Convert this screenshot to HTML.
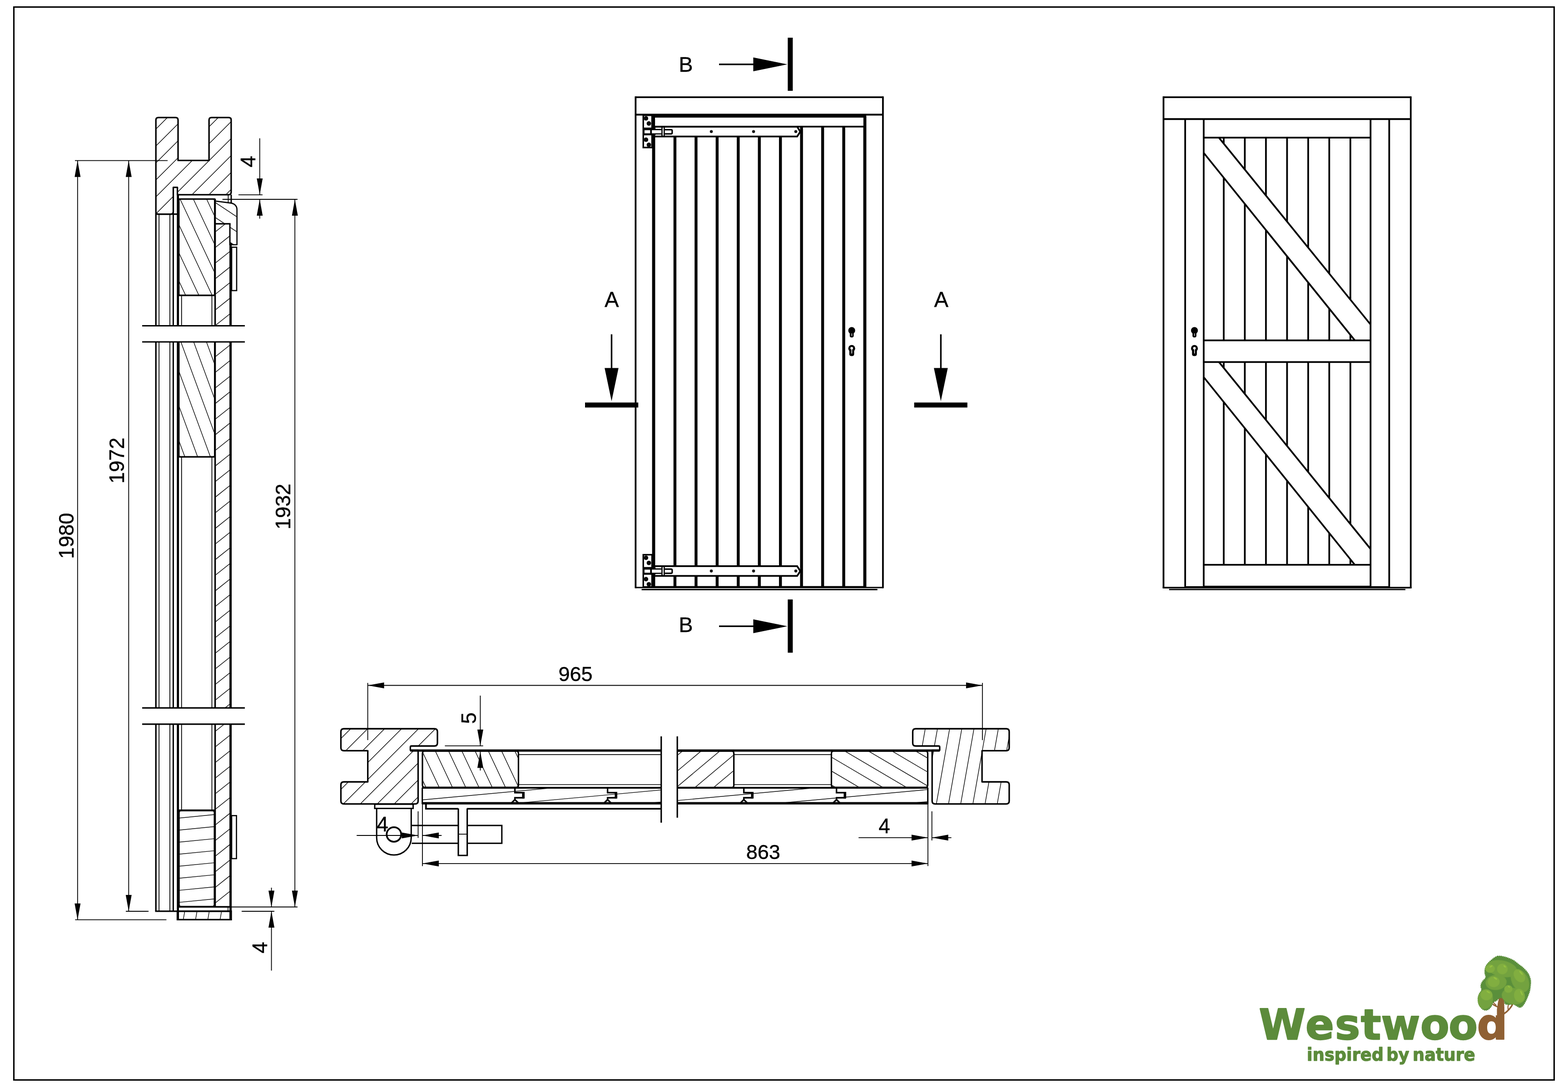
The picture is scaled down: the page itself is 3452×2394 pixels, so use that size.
<!DOCTYPE html>
<html lang="en">
<head>
<meta charset="utf-8">
<title>Westwood door drawing</title>
<style>html,body{margin:0;padding:0;background:#fff}body{width:3452px;height:2394px;overflow:hidden}svg{display:block;will-change:transform}</style>
</head>
<body>
<svg width="3452" height="2394" viewBox="0 0 3452 2394" font-family="'Liberation Sans', Arial, sans-serif" stroke="#000" fill="none">
<defs><clipPath id="c1"><path d="M343.2 466V264.3Q343.2 258.8 348.7 258.8H386.5Q392 258.8 392 264.3V353.4H460.2V264.3Q460.2 258.8 465.7 258.8H503.4Q508.9 258.8 508.9 264.3V423Q508.9 428.9 503 428.9H390.6V412.6H381.5V466Q381.5 471.6 376 471.6H349Q343.2 471.6 343.2 466Z"/></clipPath><clipPath id="c2"><path d="M473.6 492.8H507V1997.2H473.6Z"/></clipPath><clipPath id="c3"><path d="M473.6 442.7L503.7 446.6Q521.7 448 521.7 462V539H511L506.1 535V492.8H473.6Z"/></clipPath><clipPath id="c4"><path d="M397.1 438.8H469.4Q472.4 438.8 472.4 441.8V647.5Q472.4 650.5 469.4 650.5H397.1Q394.1 650.5 394.1 647.5V441.8Q394.1 438.8 397.1 438.8Z"/></clipPath><clipPath id="c5"><path d="M397.1 740H469.4Q472.4 740 472.4 743V1003.2Q472.4 1006.2 469.4 1006.2H397.1Q394.1 1006.2 394.1 1003.2V743Q394.1 740 397.1 740Z"/></clipPath><clipPath id="c6"><path d="M398.8 1785.4H467.4Q471.8 1785.4 471.8 1789.8V1991.9Q471.8 1996.3 467.4 1996.3H398.8Q394.4 1996.3 394.4 1991.9V1789.8Q394.4 1785.4 398.8 1785.4Z"/></clipPath><clipPath id="c7"><path d="M390.5 2006.8H509V2025.3H390.5Z"/></clipPath><clipPath id="c8"><path d="M757 1605H956.5Q963 1605 963 1611.5V1636.5Q963 1643 956.5 1643H905.9Q903.4 1643 903.4 1645.5V1652.3H920.5V1764.1Q920.5 1770.6 914 1770.6H757Q750.5 1770.6 750.5 1764.1V1728.5Q750.5 1722 757 1722H809.7V1653.3H757Q750.5 1653.3 750.5 1646.8V1611.5Q750.5 1605 757 1605Z"/></clipPath><clipPath id="c9"><path d="M2215.3 1605H2015.9Q2009.4 1605 2009.4 1611.5V1636.5Q2009.4 1643 2015.9 1643H2066.3Q2068.8 1643 2068.8 1645.5V1652.3H2052.1V1764.1Q2052.1 1770.6 2058.6 1770.6H2215.3Q2221.8 1770.6 2221.8 1764.1V1728.5Q2221.8 1722 2215.3 1722H2162V1653.3H2215.3Q2221.8 1653.3 2221.8 1646.8V1611.5Q2221.8 1605 2215.3 1605Z"/></clipPath><clipPath id="c10"><path d="M935 1654.2H1136.4Q1141.4 1654.2 1141.4 1659.2V1729Q1141.4 1734 1136.4 1734H935Q930 1734 930 1729V1659.2Q930 1654.2 935 1654.2Z"/></clipPath><clipPath id="c11"><path d="M1835.4 1654.2H2037.4Q2042.4 1654.2 2042.4 1659.2V1729Q2042.4 1734 2037.4 1734H1835.4Q1830.4 1734 1830.4 1729V1659.2Q1830.4 1654.2 1835.4 1654.2Z"/></clipPath><clipPath id="c12"><path d="M1485 1654.2H1610.6Q1615.6 1654.2 1615.6 1659.2V1729.4Q1615.6 1734.4 1610.6 1734.4H1485Q1480 1734.4 1480 1729.4V1659.2Q1480 1654.2 1485 1654.2Z"/></clipPath><clipPath id="c13"><path d="M929.3 1734.6H2042.8V1769.2H929.3Z"/></clipPath></defs>
<!-- sheet border -->
<rect x="30.5" y="15.5" width="3391" height="2363" stroke-width="3.2" fill="none"/>
<!-- section B-B -->
<g id="secB">
<path d="M224 366.07L427.07 163M242.66 384.74L445.74 181.66M261.33 403.4L464.4 200.33M280 422.07L483.07 219M298.67 440.74L501.74 237.67M317.33 459.41L520.41 256.33M336 478.07L539.07 275M354.67 496.74L557.74 293.67M373.34 515.41L576.41 312.34M392.01 534.08L595.08 331.01M410.67 552.74L613.74 349.67M429.34 571.41L632.41 368.34" stroke-width="1.4" fill="none" clip-path="url(#c1)"/>
<path d="M343.2 466V264.3Q343.2 258.8 348.7 258.8H386.5Q392 258.8 392 264.3V353.4H460.2V264.3Q460.2 258.8 465.7 258.8H503.4Q508.9 258.8 508.9 264.3V423Q508.9 428.9 503 428.9H390.6V412.6H381.5V466Q381.5 471.6 376 471.6H349Q343.2 471.6 343.2 466Z" stroke-width="3.3" fill="none" stroke-linejoin="round"/>
<line x1="343.2" y1="468" x2="343.2" y2="2006.8" stroke-width="3.3"/>
<line x1="350.1" y1="471.6" x2="350.1" y2="2006.8" stroke-width="1.8"/>
<line x1="374" y1="471.6" x2="374" y2="2006.8" stroke-width="1.8"/>
<line x1="381.4" y1="466" x2="381.4" y2="2006.8" stroke-width="3"/>
<line x1="343.2" y1="471.6" x2="391.7" y2="471.6" stroke-width="3.3"/>
<line x1="341.6" y1="2006.8" x2="509" y2="2006.8" stroke-width="3.3"/>
<line x1="391.7" y1="428.9" x2="391.7" y2="2025.3" stroke-width="4.7"/>
<line x1="391.7" y1="438.3" x2="474" y2="438.3" stroke-width="3.3"/>
<line x1="399.7" y1="650" x2="399.7" y2="1790" stroke-width="1.8"/>
<line x1="466.5" y1="650" x2="466.5" y2="1790" stroke-width="1.8"/>
<path d="M-271.9 1069.57L491.07 462.68M-255.15 1090.62L507.81 483.73M-238.41 1111.67L524.56 504.78M-221.66 1132.72L541.3 525.83M-204.92 1153.78L558.05 546.89M-188.17 1174.83L574.79 567.94M-171.42 1195.88L591.54 588.99M-154.68 1216.93L608.28 610.04M-137.93 1237.98L625.03 631.1M-121.19 1259.04L641.78 652.15M-104.44 1280.09L658.52 673.2M-87.7 1301.14L675.27 694.25M-70.95 1322.19L692.01 715.3M-54.2 1343.24L708.76 736.36M-37.46 1364.3L725.5 757.41M-20.71 1385.35L742.25 778.46M-3.97 1406.4L759 799.51M12.78 1427.45L775.74 820.56M29.52 1448.51L792.49 841.62M46.27 1469.56L809.23 862.67M63.01 1490.61L825.98 883.72M79.76 1511.66L842.72 904.77M96.51 1532.71L859.47 925.83M113.25 1553.77L876.21 946.88M130 1574.82L892.96 967.93M146.74 1595.87L909.71 988.98M163.49 1616.92L926.45 1010.03M180.23 1637.97L943.2 1031.09M196.98 1659.03L959.94 1052.14M213.73 1680.08L976.69 1073.19M230.47 1701.13L993.43 1094.24M247.22 1722.18L1010.18 1115.29M263.96 1743.24L1026.93 1136.35M280.71 1764.29L1043.67 1157.4M297.45 1785.34L1060.42 1178.45M314.2 1806.39L1077.16 1199.5M330.94 1827.44L1093.91 1220.56M347.69 1848.5L1110.65 1241.61M364.44 1869.55L1127.4 1262.66M381.18 1890.6L1144.15 1283.71M397.93 1911.65L1160.89 1304.76M414.67 1932.7L1177.64 1325.82M431.42 1953.76L1194.38 1346.87M448.16 1974.81L1211.13 1367.92M464.91 1995.86L1227.87 1388.97M481.66 2016.91L1244.62 1410.03M498.4 2037.97L1261.36 1431.08" stroke-width="1.4" fill="none" clip-path="url(#c2)"/>
<line x1="473.6" y1="438" x2="473.6" y2="1997.2" stroke-width="3.4"/>
<line x1="506.1" y1="492.8" x2="506.1" y2="540" stroke-width="3"/>
<line x1="507.6" y1="535" x2="507.6" y2="2025.3" stroke-width="5"/>
<line x1="472" y1="492.8" x2="507.6" y2="492.8" stroke-width="3.3"/>
<line x1="502.4" y1="428.9" x2="502.4" y2="446.4" stroke-width="1.8"/>
<line x1="509" y1="428.9" x2="509" y2="447.5" stroke-width="3"/>
<path d="M496.68 395.16L586.28 454.46M481.5 418.09L571.1 477.39M466.33 441.02L555.92 500.32M451.15 463.96L540.74 523.26M435.97 486.89L525.56 546.19M420.79 509.82L510.38 569.12" stroke-width="1.4" fill="none" clip-path="url(#c3)"/>
<path d="M473.6 442.7L503.7 446.6Q521.7 448 521.7 462V539H511L506.1 535" stroke-width="2.6" fill="none" stroke-linejoin="round"/>
<rect x="510" y="544.5" width="11" height="95.5" stroke-width="2.6" fill="none"/>
<rect x="510" y="1796.3" width="10.6" height="94.7" stroke-width="2.6" fill="none"/>
<path d="M397.1 438.8H469.4Q472.4 438.8 472.4 441.8V647.5Q472.4 650.5 469.4 650.5H397.1Q394.1 650.5 394.1 647.5V441.8Q394.1 438.8 397.1 438.8Z" stroke-width="0.1" fill="#fff" stroke-linejoin="round"/>
<path d="M465.21 398.49L566.6 613.95M441.32 409.73L542.71 625.19M417.44 420.98L518.82 636.43M393.55 432.22L494.94 647.67M369.66 443.46L471.05 658.91M345.77 454.7L447.16 670.16M321.89 465.94L423.27 681.4M298 477.18L399.39 692.64" stroke-width="1.4" fill="none" clip-path="url(#c4)"/>
<path d="M397.1 438.8H469.4Q472.4 438.8 472.4 441.8V647.5Q472.4 650.5 469.4 650.5H397.1Q394.1 650.5 394.1 647.5V441.8Q394.1 438.8 397.1 438.8Z" stroke-width="2.6" fill="none" stroke-linejoin="round"/>
<line x1="392" y1="650.5" x2="474" y2="650.5" stroke-width="3.3"/>
<path d="M397.1 740H469.4Q472.4 740 472.4 743V1003.2Q472.4 1006.2 469.4 1006.2H397.1Q394.1 1006.2 394.1 1003.2V743Q394.1 740 397.1 740Z" stroke-width="0.1" fill="#fff" stroke-linejoin="round"/>
<path d="M465.98 707.82L565.93 979.5M441.2 716.94L541.16 988.62M416.42 726.05L516.38 997.73M391.65 735.17L491.61 1006.85M366.87 744.29L466.83 1015.97M342.09 753.4L442.05 1025.08M317.32 762.52L417.28 1034.2M292.54 771.63L392.5 1043.31" stroke-width="1.4" fill="none" clip-path="url(#c5)"/>
<path d="M397.1 740H469.4Q472.4 740 472.4 743V1003.2Q472.4 1006.2 469.4 1006.2H397.1Q394.1 1006.2 394.1 1003.2V743Q394.1 740 397.1 740Z" stroke-width="2.6" fill="none" stroke-linejoin="round"/>
<line x1="392" y1="1006.2" x2="474" y2="1006.2" stroke-width="3.3"/>
<path d="M398.8 1785.4H467.4Q471.8 1785.4 471.8 1789.8V1991.9Q471.8 1996.3 467.4 1996.3H398.8Q394.4 1996.3 394.4 1991.9V1789.8Q394.4 1785.4 398.8 1785.4Z" stroke-width="0.1" fill="#fff" stroke-linejoin="round"/>
<path d="M366.39 1777.87L477.26 1767M368.97 1804.14L479.84 1793.27M371.54 1830.42L482.41 1819.55M374.12 1856.69L484.99 1845.82M376.7 1882.96L487.56 1872.09M379.27 1909.24L490.14 1898.37M381.85 1935.51L492.72 1924.64M384.43 1961.79L495.29 1950.92M387 1988.06L497.87 1977.19M389.58 2014.33L500.44 2003.46" stroke-width="1.4" fill="none" clip-path="url(#c6)"/>
<path d="M398.8 1785.4H467.4Q471.8 1785.4 471.8 1789.8V1991.9Q471.8 1996.3 467.4 1996.3H398.8Q394.4 1996.3 394.4 1991.9V1789.8Q394.4 1785.4 398.8 1785.4Z" stroke-width="2.6" fill="none" stroke-linejoin="round"/>
<line x1="392" y1="1784.6" x2="474" y2="1784.6" stroke-width="3.6"/>
<line x1="391.7" y1="1997.2" x2="509" y2="1997.2" stroke-width="3.6"/>
<line x1="502" y1="1997.2" x2="502" y2="2006.8" stroke-width="1.6"/>
<path d="M375.91 2028.59L384.68 1978.83M402.1 2033.21L410.88 1983.45M428.3 2037.83L437.08 1988.06M454.5 2042.45L463.27 1992.68M480.69 2047.07L489.47 1997.3M506.89 2051.69L515.66 2001.92" stroke-width="1.4" fill="none" clip-path="url(#c7)"/>
<path d="M390.5 2006.8H509V2025.3H390.5Z" stroke-width="3.3" fill="none" stroke-linejoin="miter"/>
<rect x="312" y="717.5" width="228" height="35.5" fill="#fff" stroke="none"/>
<line x1="313" y1="717.5" x2="539" y2="717.5" stroke-width="3.2"/>
<line x1="313" y1="753" x2="539" y2="753" stroke-width="3.2"/>
<rect x="312" y="1559.2" width="228" height="35.6" fill="#fff" stroke="none"/>
<line x1="313" y1="1559.2" x2="539" y2="1559.2" stroke-width="3.2"/>
<line x1="313" y1="1594.8" x2="539" y2="1594.8" stroke-width="3.2"/>
<line x1="170.8" y1="353.7" x2="170.8" y2="2025.7" stroke-width="1.8"/>
<polygon points="170.8,353.7 177.3,389.7 164.3,389.7" fill="#000" stroke="none"/>
<polygon points="170.8,2025.7 164.3,1989.7 177.3,1989.7" fill="#000" stroke="none"/>
<line x1="283.3" y1="353.7" x2="283.3" y2="2007" stroke-width="1.8"/>
<polygon points="283.3,353.7 289.8,389.7 276.8,389.7" fill="#000" stroke="none"/>
<polygon points="283.3,2007 276.8,1971 289.8,1971" fill="#000" stroke="none"/>
<line x1="649.2" y1="439" x2="649.2" y2="1997.5" stroke-width="1.8"/>
<polygon points="649.2,439 655.7,475 642.7,475" fill="#000" stroke="none"/>
<polygon points="649.2,1997.5 642.7,1961.5 655.7,1961.5" fill="#000" stroke="none"/>
<line x1="165" y1="353.7" x2="369" y2="353.7" stroke-width="1.8"/>
<line x1="165.4" y1="2025.7" x2="366.4" y2="2025.7" stroke-width="1.8"/>
<line x1="277" y1="2007" x2="327" y2="2007" stroke-width="1.8"/>
<line x1="489.8" y1="439" x2="655" y2="439" stroke-width="1.8"/>
<line x1="510" y1="1997.5" x2="655" y2="1997.5" stroke-width="1.8"/>
<line x1="525" y1="429.1" x2="578" y2="429.1" stroke-width="1.8"/>
<line x1="571.8" y1="304.6" x2="571.8" y2="429.1" stroke-width="1.8"/>
<polygon points="571.8,429.1 565.3,393.1 578.3,393.1" fill="#000" stroke="none"/>
<polygon points="571.8,439 578.3,475 565.3,475" fill="#000" stroke="none"/>
<line x1="571.8" y1="439" x2="571.8" y2="481.6" stroke-width="1.8"/>
<line x1="532" y1="2007" x2="604" y2="2007" stroke-width="1.8"/>
<line x1="597.6" y1="1955" x2="597.6" y2="1997.5" stroke-width="1.8"/>
<polygon points="597.6,1997.5 591.1,1961.5 604.1,1961.5" fill="#000" stroke="none"/>
<polygon points="597.6,2007 604.1,2043 591.1,2043" fill="#000" stroke="none"/>
<line x1="597.6" y1="2007" x2="597.6" y2="2137.6" stroke-width="1.8"/>
<text x="161.6" y="1180" font-size="45.5" text-anchor="middle" fill="#000" stroke="#000" stroke-width="0.45" transform="rotate(-90 161.6 1180)">1980</text>
<text x="273" y="1014.4" font-size="45.5" text-anchor="middle" fill="#000" stroke="#000" stroke-width="0.45" transform="rotate(-90 273 1014.4)">1972</text>
<text x="639.1" y="1115.7" font-size="45.5" text-anchor="middle" fill="#000" stroke="#000" stroke-width="0.45" transform="rotate(-90 639.1 1115.7)">1932</text>
<text x="562" y="355.9" font-size="45.5" text-anchor="middle" fill="#000" stroke="#000" stroke-width="0.45" transform="rotate(-90 562 355.9)">4</text>
<text x="587.5" y="2087" font-size="45.5" text-anchor="middle" fill="#000" stroke="#000" stroke-width="0.45" transform="rotate(-90 587.5 2087)">4</text>
</g>
<!-- front elevation -->
<g id="front">
<line x1="1439" y1="256" x2="1439" y2="1293" stroke-width="6.8"/>
<line x1="1485.9" y1="256" x2="1485.9" y2="1293" stroke-width="6.4"/>
<line x1="1532.35" y1="256" x2="1532.35" y2="1293" stroke-width="6.4"/>
<line x1="1578.8" y1="256" x2="1578.8" y2="1293" stroke-width="6.4"/>
<line x1="1625.25" y1="256" x2="1625.25" y2="1293" stroke-width="6.4"/>
<line x1="1671.7" y1="256" x2="1671.7" y2="1293" stroke-width="6.4"/>
<line x1="1718.15" y1="256" x2="1718.15" y2="1293" stroke-width="6.4"/>
<line x1="1764.6" y1="256" x2="1764.6" y2="1293" stroke-width="6.4"/>
<line x1="1811.05" y1="256" x2="1811.05" y2="1293" stroke-width="6.4"/>
<line x1="1857.5" y1="256" x2="1857.5" y2="1293" stroke-width="6.4"/>
<line x1="1903.95" y1="256" x2="1903.95" y2="1293" stroke-width="6.8"/>
<line x1="1399.3" y1="212.3" x2="1399.3" y2="1295.6" stroke-width="3.8"/>
<line x1="1943.8" y1="212.3" x2="1943.8" y2="1295.6" stroke-width="3.8"/>
<line x1="1399.3" y1="214.2" x2="1943.8" y2="214.2" stroke-width="3.8"/>
<line x1="1399.3" y1="252.5" x2="1943.8" y2="252.5" stroke-width="3.8"/>
<line x1="1399.3" y1="1294" x2="1943.8" y2="1294" stroke-width="3.2"/>
<line x1="1412.5" y1="1298.5" x2="1931.7" y2="1298.5" stroke-width="2.8"/>
<rect x="1442.3" y="259" width="458.2" height="18.6" fill="#fff" stroke="none"/>
<line x1="1435.7" y1="256.3" x2="1907.1" y2="256.3" stroke-width="5.6"/>
<line x1="1439" y1="278.9" x2="1903.8" y2="278.9" stroke-width="3.8"/>
<polygon points="1442,279.1 1755,279.1 1761.8,289.9 1755,300.6 1442,300.6" fill="#fff" stroke="none"/>
<path d="M1440 279.1H1755L1761.8 289.9L1755 300.6H1440" stroke-width="3.8" fill="none" stroke-linejoin="miter"/>
<rect x="1416.2" y="253.9" width="19.3" height="71" stroke-width="3.4" fill="#fff"/>
<circle cx="1422.2" cy="260.7" r="4.9" stroke="none" fill="#0a0a0a"/>
<circle cx="1428.5" cy="272" r="4.9" stroke="none" fill="#0a0a0a"/>
<circle cx="1422.2" cy="307.7" r="4.9" stroke="none" fill="#0a0a0a"/>
<circle cx="1428.5" cy="319" r="4.9" stroke="none" fill="#0a0a0a"/>
<polygon points="1416.2,281 1443,281 1443,298 1416.2,298" fill="#000" stroke="none"/>
<rect x="1418.9" y="286.7" width="12.4" height="6.9" fill="#fff" stroke="none"/>
<rect x="1435.1" y="286.7" width="21" height="6.9" fill="#fff" stroke="none"/>
<line x1="1443" y1="285.3" x2="1456.2" y2="285.3" stroke-width="2.8"/>
<line x1="1443" y1="294.9" x2="1456.2" y2="294.9" stroke-width="2.6"/>
<line x1="1457.4" y1="280" x2="1457.4" y2="301" stroke-width="2.7"/>
<line x1="1462.3" y1="280" x2="1462.3" y2="301" stroke-width="2.7"/>
<path d="M1463.6 285.6H1477.4Q1479.8 285.6 1479.8 288V292.4Q1479.8 294.8 1477.4 294.8H1463.6" stroke-width="3.2" fill="none" stroke-linejoin="round"/>
<circle cx="1566" cy="289.8" r="3.3" stroke="none" fill="#111"/>
<circle cx="1659" cy="289.8" r="3.3" stroke="none" fill="#111"/>
<circle cx="1752" cy="289.8" r="3.3" stroke="none" fill="#111"/>
<polygon points="1442,1246.9 1755,1246.9 1761.8,1257.7 1755,1268.4 1442,1268.4" fill="#fff" stroke="none"/>
<path d="M1440 1246.9H1755L1761.8 1257.7L1755 1268.4H1440" stroke-width="3.8" fill="none" stroke-linejoin="miter"/>
<rect x="1416.2" y="1221.7" width="19.3" height="71" stroke-width="3.4" fill="#fff"/>
<circle cx="1422.2" cy="1228.5" r="4.9" stroke="none" fill="#0a0a0a"/>
<circle cx="1428.5" cy="1239.8" r="4.9" stroke="none" fill="#0a0a0a"/>
<circle cx="1422.2" cy="1275.5" r="4.9" stroke="none" fill="#0a0a0a"/>
<circle cx="1428.5" cy="1286.8" r="4.9" stroke="none" fill="#0a0a0a"/>
<polygon points="1416.2,1248.8 1443,1248.8 1443,1265.8 1416.2,1265.8" fill="#000" stroke="none"/>
<rect x="1418.9" y="1254.5" width="12.4" height="6.9" fill="#fff" stroke="none"/>
<rect x="1435.1" y="1254.5" width="21" height="6.9" fill="#fff" stroke="none"/>
<line x1="1443" y1="1253.1" x2="1456.2" y2="1253.1" stroke-width="2.8"/>
<line x1="1443" y1="1262.7" x2="1456.2" y2="1262.7" stroke-width="2.6"/>
<line x1="1457.4" y1="1247.8" x2="1457.4" y2="1268.8" stroke-width="2.7"/>
<line x1="1462.3" y1="1247.8" x2="1462.3" y2="1268.8" stroke-width="2.7"/>
<path d="M1463.6 1253.4H1477.4Q1479.8 1253.4 1479.8 1255.8V1260.2Q1479.8 1262.6 1477.4 1262.6H1463.6" stroke-width="3.2" fill="none" stroke-linejoin="round"/>
<circle cx="1566" cy="1257.6" r="3.3" stroke="none" fill="#111"/>
<circle cx="1659" cy="1257.6" r="3.3" stroke="none" fill="#111"/>
<circle cx="1752" cy="1257.6" r="3.3" stroke="none" fill="#111"/>
<line x1="1439" y1="1292.6" x2="1903.8" y2="1292.6" stroke-width="3.6"/>
<circle cx="1875.1" cy="727.9" r="7.6" stroke="none" fill="#000"/>
<path d="M1870.8 730.9V739.5Q1870.8 743.3 1875.1 743.3Q1879.4 743.3 1879.4 739.5V730.9Z" stroke-width="0.1" fill="#000" stroke-linejoin="round"/>
<line x1="1875.4" y1="734.3" x2="1875.4" y2="740.1" stroke-width="1.3" stroke="#fff"/>
<circle cx="1875.1" cy="767.4" r="7.6" stroke="none" fill="#000"/>
<path d="M1869.8 769.4V780Q1869.8 784.2 1875.1 784.2Q1880.4 784.2 1880.4 780V769.4Z" stroke-width="0.1" fill="#000" stroke-linejoin="round"/>
<circle cx="1875.1" cy="766.8" r="2.9" stroke="none" fill="#fff"/>
<line x1="1875.3" y1="768.9" x2="1875.3" y2="778.6" stroke-width="1.5" stroke="#fff"/>
<line x1="1739.8" y1="83" x2="1739.8" y2="200" stroke-width="11"/>
<line x1="1583" y1="141.8" x2="1662" y2="141.8" stroke-width="3.4"/>
<polygon points="1733.4,141.8 1658.4,157.1 1658.4,126.5" fill="#000" stroke="none"/>
<text x="1509.9" y="158.4" font-size="46.8" text-anchor="middle" fill="#000" stroke="#000" stroke-width="0.45">B</text>
<line x1="1739.8" y1="1320.3" x2="1739.8" y2="1437.5" stroke-width="11"/>
<line x1="1583" y1="1379.3" x2="1662" y2="1379.3" stroke-width="3.4"/>
<polygon points="1733.4,1379.3 1658.4,1394.6 1658.4,1364" fill="#000" stroke="none"/>
<text x="1509.9" y="1392" font-size="46.8" text-anchor="middle" fill="#000" stroke="#000" stroke-width="0.45">B</text>
<line x1="1288" y1="892.1" x2="1405.2" y2="892.1" stroke-width="11"/>
<line x1="1346.4" y1="736.3" x2="1346.4" y2="814" stroke-width="3.4"/>
<polygon points="1346.4,883.5 1331.1,810.5 1361.7,810.5" fill="#000" stroke="none"/>
<text x="1346.8" y="675.8" font-size="47.2" text-anchor="middle" fill="#000" stroke="#000" stroke-width="0.45">A</text>
<line x1="2012.6" y1="892.1" x2="2129.7" y2="892.1" stroke-width="11"/>
<line x1="2071.3" y1="736.3" x2="2071.3" y2="814" stroke-width="3.4"/>
<polygon points="2071.3,883.5 2056,810.5 2086.6,810.5" fill="#000" stroke="none"/>
<text x="2072.2" y="675.8" font-size="47.2" text-anchor="middle" fill="#000" stroke="#000" stroke-width="0.45">A</text>
</g>
<!-- rear elevation -->
<g id="rear">
<line x1="2694.1" y1="303.2" x2="2694.1" y2="1243.4" stroke-width="3.8"/>
<line x1="2740.5" y1="303.2" x2="2740.5" y2="1243.4" stroke-width="3.8"/>
<line x1="2787" y1="303.2" x2="2787" y2="1243.4" stroke-width="3.8"/>
<line x1="2833.5" y1="303.2" x2="2833.5" y2="1243.4" stroke-width="3.8"/>
<line x1="2880" y1="303.2" x2="2880" y2="1243.4" stroke-width="3.8"/>
<line x1="2926.4" y1="303.2" x2="2926.4" y2="1243.4" stroke-width="3.8"/>
<line x1="2972.9" y1="303.2" x2="2972.9" y2="1243.4" stroke-width="3.8"/>
<polygon points="2650,303.2 2683.5,303.2 3017.3,714.6 3017.3,749.6 2983.4,749.6 2650,336.6" fill="#fff" stroke="none"/>
<line x1="2683.5" y1="303.2" x2="3017.3" y2="714.6" stroke-width="3.8"/>
<line x1="2650" y1="336.6" x2="2982.8" y2="749.8" stroke-width="3.8"/>
<polygon points="2650,797.2 2683.5,797.2 3017.3,1209 3017.3,1243.4 2983.4,1243.4 2650,830.6" fill="#fff" stroke="none"/>
<line x1="2683.5" y1="797.2" x2="3017.3" y2="1209" stroke-width="3.8"/>
<line x1="2650" y1="830.6" x2="2982.6" y2="1243.9" stroke-width="3.8"/>
<rect x="2650" y="749.6" width="367.3" height="47.6" fill="#fff" stroke="none"/>
<line x1="2650" y1="303.1" x2="3017.3" y2="303.1" stroke-width="3.8"/>
<line x1="2650" y1="749.7" x2="3017.3" y2="749.7" stroke-width="3.8"/>
<line x1="2650" y1="797.3" x2="3017.3" y2="797.3" stroke-width="3.8"/>
<line x1="2650" y1="1243.8" x2="3017.3" y2="1243.8" stroke-width="3.8"/>
<line x1="2650" y1="1291.9" x2="3017.3" y2="1291.9" stroke-width="3.8"/>
<line x1="2609.2" y1="1292.6" x2="3058.4" y2="1292.6" stroke-width="3"/>
<line x1="2561.5" y1="262" x2="2561.5" y2="1294.2" stroke-width="3.8"/>
<line x1="2609.2" y1="262" x2="2609.2" y2="1294.2" stroke-width="3.8"/>
<line x1="2650" y1="262" x2="2650" y2="1294.2" stroke-width="3.8"/>
<line x1="3017.3" y1="262" x2="3017.3" y2="1294.2" stroke-width="3.8"/>
<line x1="3058.4" y1="262" x2="3058.4" y2="1294.2" stroke-width="3.8"/>
<line x1="3105.8" y1="262" x2="3105.8" y2="1294.2" stroke-width="3.8"/>
<line x1="2561.5" y1="212.2" x2="2561.5" y2="262" stroke-width="3.8"/>
<line x1="3105.8" y1="212.2" x2="3105.8" y2="262" stroke-width="3.8"/>
<line x1="2561.5" y1="214.1" x2="3105.8" y2="214.1" stroke-width="3.8"/>
<line x1="2561.5" y1="262.2" x2="3105.8" y2="262.2" stroke-width="4"/>
<line x1="2559.6" y1="1294.2" x2="3107.7" y2="1294.2" stroke-width="3.4"/>
<line x1="2573.8" y1="1298.4" x2="3094.1" y2="1298.4" stroke-width="2.8"/>
<circle cx="2629.6" cy="727.9" r="7.6" stroke="none" fill="#000"/>
<path d="M2625.3 730.9V739.5Q2625.3 743.3 2629.6 743.3Q2633.9 743.3 2633.9 739.5V730.9Z" stroke-width="0.1" fill="#000" stroke-linejoin="round"/>
<line x1="2629.9" y1="734.3" x2="2629.9" y2="740.1" stroke-width="1.3" stroke="#fff"/>
<circle cx="2629.6" cy="767.4" r="7.6" stroke="none" fill="#000"/>
<path d="M2624.3 769.4V780Q2624.3 784.2 2629.6 784.2Q2634.9 784.2 2634.9 780V769.4Z" stroke-width="0.1" fill="#000" stroke-linejoin="round"/>
<circle cx="2629.6" cy="766.8" r="2.9" stroke="none" fill="#fff"/>
<line x1="2629.8" y1="768.9" x2="2629.8" y2="778.6" stroke-width="1.5" stroke="#fff"/>
</g>
<!-- section A-A -->
<g id="secA">
<path d="M653.83 1685.9L855.4 1484.33M672.5 1704.57L874.07 1503M691.16 1723.24L892.74 1521.66M709.83 1741.9L911.4 1540.33M728.5 1760.57L930.07 1559M747.17 1779.24L948.74 1577.67M765.83 1797.91L967.41 1596.33M784.5 1816.57L986.07 1615M803.17 1835.24L1004.74 1633.67M821.84 1853.91L1023.41 1652.34M840.51 1872.58L1042.08 1671.01M859.17 1891.24L1060.74 1689.67" stroke-width="1.4" fill="none" clip-path="url(#c8)"/>
<path d="M757 1605H956.5Q963 1605 963 1611.5V1636.5Q963 1643 956.5 1643H905.9Q903.4 1643 903.4 1645.5V1652.3H920.5V1764.1Q920.5 1770.6 914 1770.6H757Q750.5 1770.6 750.5 1764.1V1728.5Q750.5 1722 757 1722H809.7V1653.3H757Q750.5 1653.3 750.5 1646.8V1611.5Q750.5 1605 757 1605Z" stroke-width="3.3" fill="none" stroke-linejoin="round"/>
<path d="M1954.49 1768.82L1992.04 1555.85M1980.49 1773.4L2018.04 1560.43M2006.49 1777.99L2044.04 1565.02M2032.49 1782.57L2070.04 1569.6M2058.49 1787.16L2096.04 1574.18M2084.49 1791.74L2122.04 1578.77M2110.48 1796.32L2148.04 1583.35M2136.48 1800.91L2174.04 1587.94M2162.48 1805.49L2200.04 1592.52M2188.48 1810.08L2226.03 1597.11M2214.48 1814.66L2252.03 1601.69M2240.48 1819.25L2278.03 1606.27" stroke-width="1.4" fill="none" clip-path="url(#c9)"/>
<path d="M2215.3 1605H2015.9Q2009.4 1605 2009.4 1611.5V1636.5Q2009.4 1643 2015.9 1643H2066.3Q2068.8 1643 2068.8 1645.5V1652.3H2052.1V1764.1Q2052.1 1770.6 2058.6 1770.6H2215.3Q2221.8 1770.6 2221.8 1764.1V1728.5Q2221.8 1722 2215.3 1722H2162V1653.3H2215.3Q2221.8 1653.3 2221.8 1646.8V1611.5Q2221.8 1605 2215.3 1605Z" stroke-width="3.3" fill="none" stroke-linejoin="round"/>
<line x1="903.4" y1="1653" x2="2068.8" y2="1653" stroke-width="5"/>
<line x1="929.7" y1="1734.6" x2="929.7" y2="1771.1" stroke-width="3"/>
<line x1="2042.6" y1="1734.6" x2="2042.6" y2="1771.1" stroke-width="3"/>
<line x1="929.3" y1="1735" x2="2042.8" y2="1735" stroke-width="3.9"/>
<line x1="929.3" y1="1769.2" x2="2042.8" y2="1769.2" stroke-width="5.3"/>
<line x1="1141.4" y1="1661.9" x2="1456" y2="1661.9" stroke-width="1.7"/>
<line x1="1141.4" y1="1728" x2="1456" y2="1728" stroke-width="1.7"/>
<line x1="1616" y1="1661.9" x2="1830" y2="1661.9" stroke-width="1.7"/>
<line x1="1616" y1="1728" x2="1830" y2="1728" stroke-width="1.7"/>
<path d="M1117.37 1557.83L1192.78 1718.1M1093.48 1569.08L1168.9 1729.34M1069.59 1580.32L1145.01 1740.58M1045.71 1591.56L1121.12 1751.82M1021.82 1602.8L1097.23 1763.06M997.93 1614.04L1073.35 1774.3M974.04 1625.28L1049.46 1785.54M950.16 1636.52L1025.57 1796.78M926.27 1647.76L1001.68 1808.02M902.38 1659L977.8 1819.26M878.49 1670.24L953.91 1830.51" stroke-width="1.4" fill="none" clip-path="url(#c10)"/>
<path d="M935 1654.2H1136.4Q1141.4 1654.2 1141.4 1659.2V1729Q1141.4 1734 1136.4 1734H935Q930 1734 930 1729V1659.2Q930 1654.2 935 1654.2Z" stroke-width="3.2" fill="none" stroke-linejoin="round"/>
<path d="M1884.54 1546.16L2090.25 1667.34M1871.14 1568.91L2076.85 1690.08M1857.74 1591.66L2063.45 1712.83M1844.34 1614.4L2050.05 1735.58M1830.94 1637.15L2036.65 1758.32M1817.54 1659.9L2023.25 1781.07M1804.15 1682.65L2009.86 1803.82M1790.75 1705.39L1996.46 1826.56M1777.35 1728.14L1983.06 1849.31" stroke-width="1.4" fill="none" clip-path="url(#c11)"/>
<path d="M1835.4 1654.2H2037.4Q2042.4 1654.2 2042.4 1659.2V1729Q2042.4 1734 2037.4 1734H1835.4Q1830.4 1734 1830.4 1729V1659.2Q1830.4 1654.2 1835.4 1654.2Z" stroke-width="3.2" fill="none" stroke-linejoin="round"/>
<path d="M1426.97 1682.97L1558.15 1572.9M1443.94 1703.19L1575.12 1593.12M1460.91 1723.42L1592.09 1613.35M1477.88 1743.64L1609.06 1633.57M1494.85 1763.86L1626.03 1653.79M1511.82 1784.09L1643 1674.02M1528.79 1804.31L1659.97 1694.24M1545.76 1824.53L1676.94 1714.46" stroke-width="1.4" fill="none" clip-path="url(#c12)"/>
<path d="M1485 1654.2H1610.6Q1615.6 1654.2 1615.6 1659.2V1729.4Q1615.6 1734.4 1610.6 1734.4H1485Q1480 1734.4 1480 1729.4V1659.2Q1480 1654.2 1485 1654.2Z" stroke-width="3.2" fill="none" stroke-linejoin="round"/>
<path d="M918.43 1709.62L2036.34 1606.9M920.85 1735.91L2038.76 1633.19M923.26 1762.2L2041.17 1659.48M925.68 1788.49L2043.59 1685.77M928.09 1814.78L2046.01 1712.06M930.51 1841.07L2048.42 1738.35M932.93 1867.36L2050.84 1764.64M935.34 1893.65L2053.25 1790.93" stroke-width="1.4" fill="none" clip-path="url(#c13)"/>
<path d="M1133.6 1734.5V1745.7H1151.6V1757H1133.6V1761L1126.6 1768M1133.6 1761L1140.6 1768" stroke-width="3.4" fill="none" stroke-linejoin="miter"/>
<line x1="1152.2" y1="1744" x2="1152.2" y2="1758.7" stroke-width="5.6"/>
<path d="M1337.6 1734.5V1745.7H1355.6V1757H1337.6V1761L1330.6 1768M1337.6 1761L1344.6 1768" stroke-width="3.4" fill="none" stroke-linejoin="miter"/>
<line x1="1356.2" y1="1744" x2="1356.2" y2="1758.7" stroke-width="5.6"/>
<path d="M1637.6 1734.5V1745.7H1655.6V1757H1637.6V1761L1630.6 1768M1637.6 1761L1644.6 1768" stroke-width="3.4" fill="none" stroke-linejoin="miter"/>
<line x1="1656.2" y1="1744" x2="1656.2" y2="1758.7" stroke-width="5.6"/>
<path d="M1841.6 1734.5V1745.7H1859.6V1757H1841.6V1761L1834.6 1768M1841.6 1761L1848.6 1768" stroke-width="3.4" fill="none" stroke-linejoin="miter"/>
<line x1="1860.2" y1="1744" x2="1860.2" y2="1758.7" stroke-width="5.6"/>
<path d="M937.8 1771.1V1781.2H1009M1028 1781.2H1456" stroke-width="3.6" fill="none" stroke-linejoin="miter"/>
<rect x="825" y="1771.1" width="84.5" height="9.4" stroke-width="3" fill="none"/>
<path d="M829.2 1780.5V1845A38.05 38.05 0 0 0 905.3 1845V1780.5" stroke-width="3" fill="none" stroke-linejoin="round"/>
<circle cx="867.2" cy="1837.8" r="16" stroke-width="3.8" fill="none"/>
<path d="M906.4 1818H1008.3M1028.6 1818H1104.8V1857.3H1028.6M1008.3 1857.3H906.4" stroke-width="3" fill="none" stroke-linejoin="miter"/>
<path d="M1009 1780.5V1884H1028.6V1780.5" stroke-width="3.2" fill="none" stroke-linejoin="miter"/>
<line x1="1008.3" y1="1837.2" x2="1028.6" y2="1837.2" stroke-width="1.8"/>
<rect x="1455.7" y="1640" width="35.4" height="150" fill="#fff" stroke="none"/>
<line x1="1455.7" y1="1621.7" x2="1455.7" y2="1811.9" stroke-width="3.2"/>
<line x1="1491.1" y1="1621.7" x2="1491.1" y2="1800.9" stroke-width="3.2"/>
<line x1="809.6" y1="1509.5" x2="2162.8" y2="1509.5" stroke-width="1.8"/>
<polygon points="809.6,1509.5 845.6,1503 845.6,1516" fill="#000" stroke="none"/>
<polygon points="2162.8,1509.5 2126.8,1516 2126.8,1503" fill="#000" stroke="none"/>
<line x1="809.6" y1="1504" x2="809.6" y2="1630" stroke-width="1.8"/>
<line x1="2162.8" y1="1504" x2="2162.8" y2="1630" stroke-width="1.8"/>
<line x1="930" y1="1901.8" x2="2042.8" y2="1901.8" stroke-width="1.8"/>
<polygon points="930,1901.8 966,1895.3 966,1908.3" fill="#000" stroke="none"/>
<polygon points="2042.8,1901.8 2006.8,1908.3 2006.8,1895.3" fill="#000" stroke="none"/>
<line x1="930" y1="1771" x2="930" y2="1907.4" stroke-width="1.8"/>
<line x1="2042.8" y1="1771" x2="2042.8" y2="1907.4" stroke-width="1.8"/>
<text x="1267" y="1500.2" font-size="45" text-anchor="middle" fill="#000" stroke="#000" stroke-width="0.45">965</text>
<text x="1680.3" y="1891.8" font-size="45" text-anchor="middle" fill="#000" stroke="#000" stroke-width="0.45">863</text>
<line x1="1057.4" y1="1532" x2="1057.4" y2="1642.7" stroke-width="1.8"/>
<polygon points="1057.4,1642.7 1050.9,1606.7 1063.9,1606.7" fill="#000" stroke="none"/>
<line x1="979.4" y1="1642.7" x2="1063.7" y2="1642.7" stroke-width="1.8"/>
<polygon points="1057.4,1655.2 1063.9,1691.2 1050.9,1691.2" fill="#000" stroke="none"/>
<line x1="1057.4" y1="1655.2" x2="1057.4" y2="1697" stroke-width="1.8"/>
<text x="1048" y="1581.6" font-size="45.5" text-anchor="middle" fill="#000" stroke="#000" stroke-width="0.45" transform="rotate(-90 1048 1581.6)">5</text>
<line x1="785.2" y1="1840" x2="920.5" y2="1840" stroke-width="1.8"/>
<polygon points="920.5,1840 884.5,1846.5 884.5,1833.5" fill="#000" stroke="none"/>
<polygon points="930,1840 966,1833.5 966,1846.5" fill="#000" stroke="none"/>
<line x1="930" y1="1840" x2="972.2" y2="1840" stroke-width="1.8"/>
<line x1="920.5" y1="1786.8" x2="920.5" y2="1845.4" stroke-width="1.8"/>
<text x="842.2" y="1830.7" font-size="45.5" text-anchor="middle" fill="#000" stroke="#000" stroke-width="0.45">4</text>
<line x1="1890.2" y1="1844.8" x2="2042.8" y2="1844.8" stroke-width="1.8"/>
<polygon points="2042.8,1844.8 2006.8,1851.3 2006.8,1838.3" fill="#000" stroke="none"/>
<polygon points="2051.6,1844.8 2087.6,1838.3 2087.6,1851.3" fill="#000" stroke="none"/>
<line x1="2051.6" y1="1844.8" x2="2094.5" y2="1844.8" stroke-width="1.8"/>
<line x1="2051.6" y1="1786.8" x2="2051.6" y2="1851" stroke-width="1.8"/>
<text x="1946.8" y="1835.4" font-size="45.5" text-anchor="middle" fill="#000" stroke="#000" stroke-width="0.45">4</text>
</g>
<!-- logo -->
<g id="logo" stroke="none">
<text x="2771.5 2873.9 2938.9 2996 3040.4 3127 3189.2 3251.8" y="2289.2" font-family="'DejaVu Sans', 'Liberation Sans', sans-serif" font-weight="bold" font-size="93" fill="#5c8b3b" stroke="#5c8b3b" stroke-width="2.4" stroke-linejoin="round">Westwoo<tspan fill="#8f6033" stroke="#8f6033">d</tspan></text>
<text transform="scale(0.955 1)" y="2336.4" font-family="'DejaVu Sans', 'Liberation Sans', sans-serif" font-weight="bold" font-size="38.5" fill="#5c8b3b" stroke="#5c8b3b" stroke-width="1.4" stroke-linejoin="round"><tspan x="3012.7">inspired</tspan> <tspan x="3196">by</tspan> <tspan x="3256.6">nature</tspan></text>
<rect x="3284" y="2212" width="12.2" height="24.2" fill="#fff" stroke="none"/>
<path d="M3298.95 2218.29Q3288.42 2214.34 3279.47 2206.84" fill="none" stroke="#8f6033" stroke-width="3.0" stroke-linecap="round"/>
<path d="M3293.68 2213.68Q3287.76 2209.08 3286.45 2204.47" fill="none" stroke="#8f6033" stroke-width="2.2" stroke-linecap="round"/>
<path d="M3310.79 2232.76Q3323.95 2224.21 3330.79 2210.39" fill="none" stroke="#8f6033" stroke-width="3.4" stroke-linecap="round"/>
<path d="M3320 2222.89Q3319.34 2216.32 3321.05 2211.71" fill="none" stroke="#8f6033" stroke-width="2.2" stroke-linecap="round"/>
<path d="M3295.53 2289.47L3295.53 2222.89Q3296.97 2208.42 3300.53 2195.92L3311.71 2198.55L3311.71 2289.47Z" fill="#8f6033"/>
<path d="M3297.76 2106.32Q3301.58 2105.53 3308.16 2106.97Q3314.74 2108.42 3320 2110.39Q3325.26 2112.37 3329.87 2114.67Q3334.47 2116.97 3339.08 2120.92Q3343.68 2124.87 3348.29 2128.16Q3352.89 2131.45 3357.83 2136.71Q3362.76 2141.97 3364.74 2145.92Q3366.71 2149.87 3368.22 2154.8Q3369.74 2159.74 3369.34 2165Q3368.95 2170.26 3368.29 2176.18Q3367.63 2182.11 3365.66 2187.37Q3363.68 2192.63 3361.71 2197.24Q3359.74 2201.84 3357.11 2207.11Q3354.47 2212.37 3350.72 2215.99Q3346.97 2219.61 3343.03 2217.3Q3339.08 2215 3335.46 2212.7Q3331.84 2210.39 3327.24 2211.38Q3322.63 2212.37 3317.7 2211.84Q3312.76 2211.32 3312.43 2205.59Q3312.11 2199.87 3306.84 2197.57Q3301.58 2195.26 3297.96 2199.74Q3294.34 2204.21 3290.39 2205Q3286.45 2205.79 3284.93 2210.92Q3283.42 2216.05 3279.34 2220.26Q3275.26 2224.47 3270.66 2224.47Q3266.05 2224.47 3262.24 2220.53Q3258.42 2216.58 3255.99 2210Q3253.55 2203.42 3254.87 2196.18Q3256.18 2188.95 3259.93 2184.87Q3263.68 2180.79 3261.58 2176.32Q3259.47 2171.84 3261.58 2166.58Q3263.68 2161.32 3268.29 2157.37Q3272.89 2153.42 3270.79 2148.16Q3268.68 2142.89 3269.47 2136.32Q3270.26 2129.74 3273.55 2125.13Q3276.84 2120.53 3281.45 2116.58Q3286.05 2112.63 3290 2109.87Q3293.95 2107.11 3297.76 2106.32Z" fill="#5a8f3b" stroke="#5a8f3b" stroke-width="3.2" stroke-linecap="round" stroke-linejoin="round" stroke-dasharray="0.1 3.68"/>
<ellipse cx="3306.84" cy="2133.42" rx="32.89" ry="17.11" fill="#73a23f" stroke="#73a23f" stroke-width="2.6" stroke-linecap="round" stroke-dasharray="0.1 2.99" transform="rotate(12 3306.84 2133.42)"/>
<ellipse cx="3293.68" cy="2163.68" rx="22.37" ry="15.79" fill="#73a23f" stroke="#73a23f" stroke-width="2.6" stroke-linecap="round" stroke-dasharray="0.1 2.99" transform="rotate(-5 3293.68 2163.68)"/>
<ellipse cx="3346.32" cy="2159.74" rx="17.11" ry="26.32" fill="#73a23f" stroke="#73a23f" stroke-width="2.6" stroke-linecap="round" stroke-dasharray="0.1 2.99" transform="rotate(-28 3346.32 2159.74)"/>
<ellipse cx="3270" cy="2200.53" rx="15.79" ry="21.05" fill="#73a23f" stroke="#73a23f" stroke-width="2.6" stroke-linecap="round" stroke-dasharray="0.1 2.99" transform="rotate(8 3270 2200.53)"/>
<ellipse cx="3331.84" cy="2193.95" rx="25" ry="17.11" fill="#73a23f" stroke="#73a23f" stroke-width="2.6" stroke-linecap="round" stroke-dasharray="0.1 2.99" transform="rotate(10 3331.84 2193.95)"/>
<ellipse cx="3280.53" cy="2133.42" rx="9.87" ry="8.55" fill="#81ae40" stroke="#81ae40" stroke-width="1.6" stroke-linecap="round" stroke-dasharray="0.1 1.84"/>
<ellipse cx="3307.5" cy="2134.08" rx="11.18" ry="11.18" fill="#81ae40" stroke="#81ae40" stroke-width="1.6" stroke-linecap="round" stroke-dasharray="0.1 1.84"/>
<ellipse cx="3345" cy="2149.21" rx="10.53" ry="15.13" fill="#81ae40" stroke="#81ae40" stroke-width="1.6" stroke-linecap="round" stroke-dasharray="0.1 1.84" transform="rotate(-35 3345 2149.21)"/>
<ellipse cx="3288.42" cy="2162.37" rx="12.5" ry="11.18" fill="#81ae40" stroke="#81ae40" stroke-width="1.6" stroke-linecap="round" stroke-dasharray="0.1 1.84"/>
<ellipse cx="3272.63" cy="2191.32" rx="12.5" ry="11.18" fill="#81ae40" stroke="#81ae40" stroke-width="1.6" stroke-linecap="round" stroke-dasharray="0.1 1.84"/>
<ellipse cx="3320.66" cy="2178.16" rx="8.55" ry="7.89" fill="#81ae40" stroke="#81ae40" stroke-width="1.6" stroke-linecap="round" stroke-dasharray="0.1 1.84"/>
<ellipse cx="3345" cy="2192.63" rx="11.18" ry="14.47" fill="#81ae40" stroke="#81ae40" stroke-width="1.6" stroke-linecap="round" stroke-dasharray="0.1 1.84" transform="rotate(-10 3345 2192.63)"/>
<ellipse cx="3282.5" cy="2128.42" rx="3.95" ry="1.71" fill="#94c140" transform="rotate(-30 3282.5 2128.42)"/>
<ellipse cx="3312.76" cy="2128.42" rx="3.42" ry="1.58" fill="#94c140" transform="rotate(40 3312.76 2128.42)"/>
<ellipse cx="3348.68" cy="2142.63" rx="5.53" ry="1.71" fill="#94c140" transform="rotate(50 3348.68 2142.63)"/>
<ellipse cx="3292.11" cy="2154.74" rx="4.47" ry="1.71" fill="#94c140" transform="rotate(35 3292.11 2154.74)"/>
<ellipse cx="3276.58" cy="2185" rx="4.47" ry="1.58" fill="#94c140" transform="rotate(30 3276.58 2185)"/>
<ellipse cx="3321.97" cy="2173.16" rx="2.89" ry="1.32" fill="#94c140" transform="rotate(50 3321.97 2173.16)"/>
<ellipse cx="3349.61" cy="2187.11" rx="5.53" ry="1.58" fill="#94c140" transform="rotate(65 3349.61 2187.11)"/>
</g>
</svg>
</body>
</html>
